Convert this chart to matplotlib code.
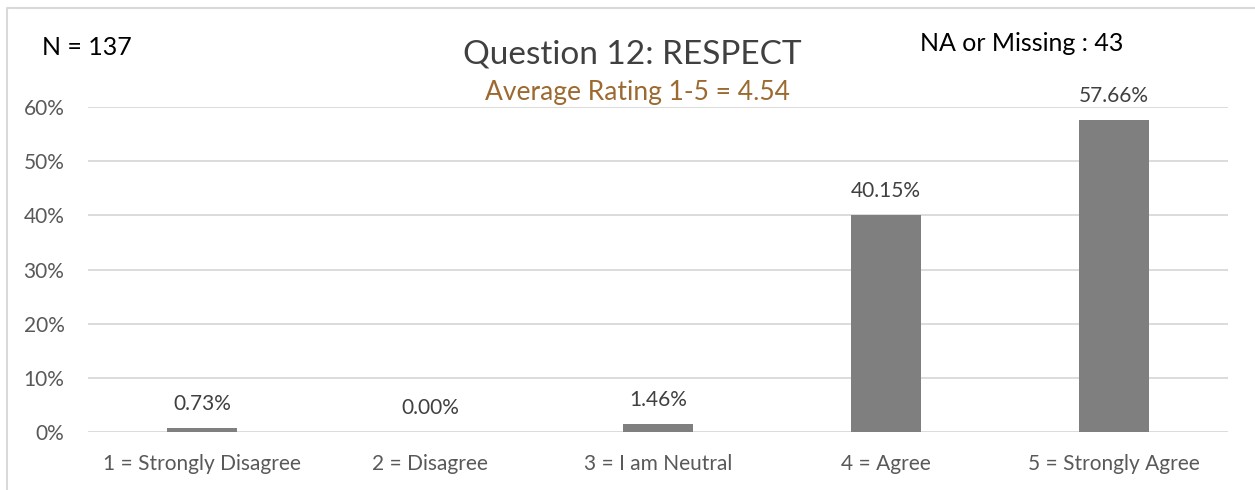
import matplotlib.pyplot as plt
from matplotlib.lines import Line2D

# survey results
categories = ['1 = Strongly Disagree', '2 = Disagree', '3 = I am Neutral',
              '4 = Agree', '5 = Strongly Agree']
shares = [0.0073, 0.0000, 0.0146, 0.4015, 0.5766]
yticks = [0, 0.1, 0.2, 0.3, 0.4, 0.5, 0.6]

title = 'Question 12: RESPECT'
subtitle = 'Average Rating 1-5 = 4.54'
n_text = 'N = 137'
missing_text = 'NA or Missing : 43'

plt.rcParams['font.family'] = ['Lato', 'DejaVu Sans']

W, H = 1255, 490
fig = plt.figure(figsize=(W / 100, H / 100), dpi=100)

#chart frame (only top and left edge are inside the picture)
fig.add_artist(Line2D([7 / W, 7 / W, 1.0], [0.0, 1 - 8 / H, 1 - 8 / H],
                      transform=fig.transFigure, color='#d9d9d9', lw=1.5))

ax = fig.add_axes([88 / W, 1 - 432 / H, 1140 / W, 325 / H])

x = range(len(categories))
bars = ax.bar(x, shares, width=0.31, color='#7f7f7f', zorder=3)

ax.set_xlim(-0.5, len(categories) - 0.5)
ax.set_ylim(0, 0.6)
ax.set_yticks(yticks)
ax.set_yticklabels(['%d%%' % round(v * 100) for v in yticks])
ax.set_xticks(list(x))
ax.set_xticklabels(categories)
ax.grid(axis='y', color='#d9d9d9', lw=1.3, zorder=0)
ax.tick_params(length=0, labelsize=15, colors='#595959')
ax.tick_params(axis='y', pad=17)
ax.tick_params(axis='x', pad=16)
for s in ax.spines.values():
    s.set_visible(False)

for b, v in zip(bars, shares):
    ax.annotate('%.2f%%' % (v * 100), (b.get_x() + b.get_width() / 2, v),
                xytext=(0, 10), textcoords='offset points',
                ha='center', va='bottom', fontsize=15, color='#404040')

fig.text(632 / W, 1 - 64 / H, title, ha='center', va='baseline',
         fontsize=24, color='#404040')
fig.text(638 / W, 1 - 100 / H, subtitle, ha='center', va='baseline',
         fontsize=19, color='#9c6a30')
fig.text(42 / W, 1 - 55 / H, n_text, ha='left', va='baseline',
         fontsize=18, color='#000000')
fig.text(920 / W, 1 - 51 / H, missing_text, ha='left', va='baseline',
         fontsize=18, color='#000000')

fig.savefig('out.png', dpi=100)
